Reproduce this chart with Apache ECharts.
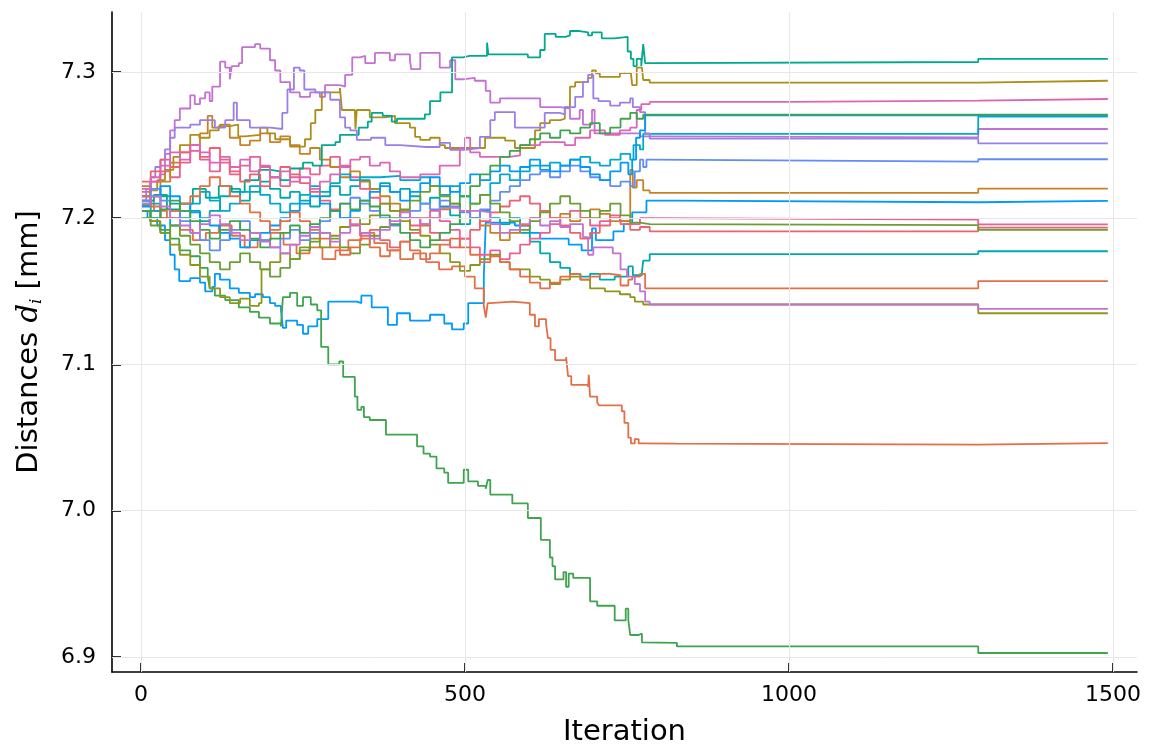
<!DOCTYPE html>
<html>
<head>
<meta charset="utf-8">
<script src="https://cdn.jsdelivr.net/npm/echarts@6/dist/echarts.min.js"></script>
<style>html,body{margin:0;padding:0;background:#fff;}#chart{width:1150px;height:749px;}</style>
</head>
<body>
<div id="chart"></div>
<script>
// Tick values
const iterTicks = [0, 500, 1000, 1500];
const distTicks = [6.9, 7.0, 7.1, 7.2, 7.3];

// Series: [iteration, distance] breakpoints (held until next breakpoint)
const s01 = [[0,7.205],[10,7.2],[25,7.195],[37,7.185],[45,7.175],[52,7.165],[59,7.157],[76,7.159],[91,7.156],[99,7.15],[110,7.153],[114,7.162],[122,7.158],[137,7.152],[151,7.149],[168,7.146],[176,7.148],[188,7.146],[199,7.142],[207,7.14],[216,7.137],[219,7.125],[224,7.13],[241,7.127],[250,7.121],[258,7.126],[272,7.131],[289,7.143],[333,7.142],[340,7.147],[356,7.139],[381,7.127],[395,7.135],[415,7.13],[446,7.134],[468,7.128],[480,7.124],[498,7.128],[505,7.142],[529,7.16],[532,7.197],[577,7.195],[600,7.19],[616,7.186],[660,7.182],[680,7.178],[696,7.193],[702,7.185],[729,7.191],[745,7.196],[758,7.204],[780,7.212],[827,7.2109],[1292,7.2118],[1492,7.2118]];
const s02 = [[0,7.212],[20,7.205],[40,7.2],[60,7.192],[80,7.185],[100,7.19],[120,7.195],[140,7.188],[160,7.18],[180,7.185],[200,7.19],[220,7.182],[240,7.176],[260,7.18],[280,7.172],[300,7.178],[320,7.185],[340,7.19],[360,7.183],[380,7.178],[400,7.172],[420,7.176],[440,7.17],[460,7.165],[480,7.167],[500,7.16],[515,7.152],[529,7.14],[532,7.132],[535,7.142],[539,7.143],[573,7.142],[600,7.134],[608,7.126],[614,7.131],[625,7.128],[628,7.118],[632,7.11],[639,7.103],[656,7.105],[659,7.092],[664,7.086],[690,7.0846],[691,7.093],[693,7.078],[704,7.074],[707,7.072],[742,7.068],[746,7.06],[752,7.05],[756,7.046],[762,7.049],[768,7.046],[773,7.0458],[827,7.0452],[1292,7.0462],[1492,7.0462]];
const s03 = [[0,7.205],[14,7.198],[29,7.192],[45,7.186],[59,7.178],[76,7.174],[91,7.166],[103,7.16],[106,7.152],[114,7.147],[130,7.144],[151,7.139],[168,7.136],[182,7.132],[199,7.128],[216,7.126],[219,7.146],[230,7.149],[241,7.14],[250,7.146],[262,7.141],[272,7.137],[278,7.112],[289,7.1],[306,7.102],[312,7.0915],[330,7.078],[334,7.069],[340,7.071],[344,7.064],[353,7.062],[378,7.052],[426,7.044],[436,7.039],[446,7.037],[456,7.029],[468,7.026],[474,7.019],[498,7.028],[505,7.02],[520,7.017],[532,7.015],[535,7.021],[539,7.011],[573,7.005],[597,6.995],[617,6.98],[631,6.968],[635,6.962],[639,6.953],[652,6.958],[656,6.948],[660,6.957],[667,6.954],[693,6.938],[704,6.935],[731,6.925],[748,6.933],[752,6.925],[755,6.915],[768,6.916],[773,6.91],[776,6.9096],[827,6.9072],[1292,6.9027],[1492,6.9027]];
const s04 = [[0,7.215],[14,7.225],[29,7.23],[37,7.244],[45,7.26],[52,7.267],[60,7.275],[76,7.284],[83,7.278],[91,7.282],[99,7.286],[106,7.28],[110,7.29],[122,7.307],[130,7.303],[137,7.295],[140,7.304],[151,7.306],[156,7.317],[176,7.319],[184,7.316],[199,7.308],[207,7.301],[215,7.293],[230,7.286],[245,7.283],[261,7.286],[276,7.283],[284,7.291],[307,7.29],[315,7.298],[326,7.31],[338,7.311],[346,7.306],[361,7.313],[384,7.308],[392,7.312],[415,7.308],[417,7.302],[431,7.313],[461,7.303],[477,7.308],[485,7.295],[497,7.296],[515,7.294],[532,7.287],[539,7.279],[554,7.282],[585,7.282],[616,7.276],[647,7.275],[662,7.268],[677,7.274],[682,7.264],[696,7.274],[700,7.258],[739,7.258],[770,7.256],[785,7.2553],[1292,7.261],[1492,7.261]];
const s05 = [[0,7.209],[14,7.219],[25,7.226],[37,7.233],[50,7.242],[60,7.25],[76,7.257],[90,7.255],[106,7.26],[120,7.263],[137,7.264],[150,7.256],[160,7.257],[184,7.262],[195,7.258],[207,7.254],[230,7.249],[253,7.254],[262,7.265],[269,7.274],[279,7.286],[307,7.289],[310,7.274],[330,7.273],[331,7.261],[333,7.274],[353,7.269],[377,7.27],[392,7.265],[415,7.262],[423,7.2556],[431,7.2535],[446,7.255],[461,7.25],[469,7.248],[523,7.248],[531,7.255],[562,7.253],[577,7.248],[608,7.26],[616,7.265],[631,7.267],[647,7.268],[654,7.276],[662,7.29],[670,7.293],[690,7.296],[696,7.301],[702,7.299],[708,7.2966],[739,7.2993],[756,7.3],[758,7.291],[765,7.303],[773,7.303],[775,7.2945],[785,7.2927],[1292,7.294],[1492,7.294]];
const s06 = [[0,7.21],[15,7.205],[30,7.215],[45,7.21],[60,7.2],[76,7.205],[91,7.198],[106,7.205],[122,7.215],[137,7.22],[153,7.212],[168,7.218],[184,7.225],[199,7.22],[215,7.214],[230,7.218],[245,7.212],[261,7.208],[276,7.215],[292,7.222],[307,7.216],[323,7.222],[338,7.226],[353,7.22],[369,7.224],[384,7.218],[400,7.22],[415,7.215],[431,7.21],[446,7.214],[461,7.208],[477,7.202],[492,7.196],[508,7.2],[523,7.205],[539,7.2],[554,7.196],[569,7.2],[585,7.19],[600,7.184],[616,7.176],[631,7.17],[647,7.166],[662,7.162],[678,7.16],[693,7.162],[708,7.158],[731,7.16],[752,7.167],[759,7.161],[773,7.163],[775,7.171],[785,7.1754],[1292,7.1774],[1492,7.1774]];
const s07 = [[0,7.218],[15,7.225],[30,7.232],[45,7.228],[60,7.238],[76,7.246],[91,7.24],[106,7.232],[122,7.238],[137,7.23],[153,7.236],[168,7.242],[184,7.235],[199,7.228],[215,7.222],[230,7.228],[245,7.234],[261,7.23],[276,7.236],[292,7.242],[307,7.236],[323,7.228],[338,7.22],[353,7.214],[369,7.21],[384,7.205],[400,7.2],[415,7.195],[431,7.2],[446,7.205],[461,7.198],[477,7.192],[492,7.186],[508,7.18],[523,7.175],[539,7.178],[554,7.172],[569,7.176],[585,7.182],[600,7.186],[616,7.19],[631,7.196],[647,7.2],[662,7.205],[678,7.2],[693,7.195],[708,7.198],[724,7.202],[739,7.198],[755,7.196],[770,7.2],[785,7.199],[1292,7.1958],[1492,7.1958]];
const s08 = [[0,7.222],[15,7.215],[30,7.225],[45,7.238],[60,7.245],[76,7.25],[91,7.258],[103,7.27],[110,7.262],[122,7.264],[137,7.255],[153,7.25],[168,7.253],[184,7.258],[199,7.252],[215,7.256],[230,7.25],[245,7.244],[261,7.248],[276,7.24],[292,7.235],[307,7.228],[323,7.232],[338,7.225],[353,7.22],[369,7.215],[384,7.21],[400,7.205],[415,7.2],[431,7.195],[446,7.2],[461,7.206],[477,7.21],[492,7.205],[508,7.2],[523,7.195],[539,7.19],[554,7.185],[569,7.19],[585,7.195],[600,7.2],[616,7.205],[631,7.2],[647,7.203],[662,7.198],[678,7.2],[693,7.206],[708,7.203],[724,7.198],[740,7.198],[755,7.233],[759,7.221],[765,7.226],[775,7.219],[785,7.2173],[1292,7.2202],[1492,7.2202]];
const s09 = [[0,7.212],[20,7.216],[40,7.206],[60,7.21],[80,7.22],[100,7.214],[120,7.222],[140,7.218],[160,7.226],[182,7.233],[200,7.232],[215,7.226],[230,7.234],[250,7.238],[265,7.236],[279,7.25],[300,7.252],[307,7.257],[336,7.262],[350,7.266],[356,7.272],[373,7.27],[387,7.266],[395,7.268],[438,7.271],[446,7.28],[462,7.286],[480,7.31],[497,7.311],[507,7.311],[534,7.32],[536,7.312],[597,7.31],[612,7.31],[616,7.315],[623,7.326],[640,7.324],[655,7.325],[662,7.328],[677,7.327],[690,7.325],[696,7.327],[711,7.323],[731,7.324],[751,7.314],[756,7.309],[760,7.304],[765,7.309],[772,7.304],[775,7.319],[778,7.306],[784,7.3068],[1292,7.3089],[1492,7.3089]];
const s10 = [[0,7.205],[15,7.198],[30,7.19],[45,7.182],[60,7.175],[76,7.168],[91,7.16],[106,7.152],[122,7.146],[137,7.142],[153,7.145],[168,7.14],[182,7.142],[186,7.165],[199,7.17],[215,7.176],[230,7.172],[245,7.18],[261,7.186],[276,7.18],[292,7.188],[307,7.194],[323,7.2],[338,7.196],[353,7.202],[369,7.21],[384,7.205],[400,7.198],[415,7.192],[431,7.188],[446,7.182],[461,7.176],[477,7.17],[492,7.164],[508,7.168],[523,7.172],[539,7.175],[554,7.17],[569,7.165],[585,7.165],[600,7.16],[616,7.158],[631,7.155],[647,7.158],[662,7.16],[678,7.158],[693,7.152],[716,7.15],[739,7.148],[755,7.146],[762,7.143],[775,7.141],[1292,7.135],[1492,7.135]];
const s11 = [[0,7.215],[15,7.21],[30,7.2],[45,7.195],[60,7.205],[76,7.21],[91,7.218],[106,7.212],[122,7.205],[137,7.21],[153,7.218],[168,7.222],[184,7.216],[199,7.21],[215,7.204],[230,7.21],[245,7.216],[261,7.222],[276,7.218],[292,7.224],[307,7.23],[323,7.226],[338,7.228],[369,7.229],[400,7.226],[431,7.228],[446,7.222],[461,7.216],[477,7.222],[492,7.215],[508,7.21],[523,7.216],[539,7.224],[554,7.23],[569,7.226],[585,7.232],[600,7.236],[616,7.233],[631,7.238],[647,7.236],[662,7.24],[678,7.242],[693,7.238],[708,7.236],[724,7.24],[740,7.244],[755,7.24],[760,7.25],[770,7.247],[775,7.2576],[1292,7.2695],[1492,7.2695]];
const s12 = [[0,7.212],[8,7.22],[15,7.228],[22,7.235],[30,7.24],[37,7.247],[45,7.255],[52,7.262],[76,7.264],[91,7.267],[114,7.262],[130,7.267],[143,7.279],[148,7.267],[168,7.262],[200,7.261],[218,7.272],[226,7.288],[236,7.303],[245,7.301],[252,7.288],[269,7.286],[292,7.281],[307,7.269],[315,7.262],[323,7.26],[333,7.2535],[355,7.255],[377,7.25],[400,7.2487],[440,7.2487],[461,7.2515],[477,7.2467],[500,7.248],[523,7.2556],[539,7.267],[546,7.2726],[569,7.2726],[577,7.262],[608,7.262],[623,7.272],[646,7.271],[654,7.276],[670,7.283],[682,7.293],[690,7.298],[698,7.282],[706,7.28],[724,7.277],[739,7.279],[755,7.282],[759,7.276],[770,7.2726],[778,7.258],[785,7.2544],[1292,7.2512],[1492,7.2512]];
const s13 = [[0,7.212],[15,7.22],[30,7.212],[45,7.205],[60,7.198],[76,7.19],[91,7.185],[106,7.178],[122,7.185],[137,7.192],[153,7.198],[168,7.19],[184,7.185],[199,7.18],[215,7.186],[230,7.192],[245,7.185],[261,7.19],[276,7.198],[292,7.205],[307,7.21],[323,7.214],[338,7.21],[353,7.205],[369,7.2],[384,7.195],[400,7.2],[415,7.205],[431,7.21],[446,7.206],[461,7.212],[477,7.208],[492,7.204],[508,7.2],[523,7.206],[539,7.212],[554,7.218],[569,7.222],[585,7.226],[600,7.23],[616,7.232],[631,7.228],[647,7.232],[662,7.236],[678,7.232],[693,7.228],[708,7.226],[724,7.222],[740,7.225],[755,7.222],[762,7.232],[770,7.24],[775,7.235],[780,7.24],[785,7.2387],[1292,7.2403],[1492,7.2403]];
const s14 = [[0,7.225],[15,7.232],[30,7.24],[45,7.235],[60,7.245],[76,7.25],[91,7.242],[106,7.248],[122,7.24],[137,7.232],[153,7.225],[168,7.23],[184,7.222],[199,7.228],[215,7.235],[230,7.23],[245,7.224],[261,7.218],[276,7.212],[292,7.206],[307,7.2],[323,7.195],[338,7.188],[353,7.192],[369,7.185],[384,7.18],[400,7.184],[415,7.19],[431,7.196],[446,7.19],[461,7.185],[477,7.18],[492,7.186],[508,7.192],[523,7.198],[539,7.204],[554,7.208],[569,7.212],[585,7.215],[600,7.21],[616,7.205],[631,7.2],[647,7.195],[662,7.19],[678,7.186],[693,7.19],[708,7.195],[724,7.2],[740,7.196],[755,7.192],[770,7.194],[785,7.191],[1292,7.1935],[1492,7.1935]];
const s15 = [[0,7.22],[15,7.228],[30,7.236],[45,7.245],[60,7.24],[76,7.25],[91,7.245],[106,7.238],[122,7.242],[137,7.235],[153,7.24],[168,7.232],[184,7.236],[199,7.228],[215,7.232],[230,7.225],[245,7.228],[261,7.22],[276,7.225],[292,7.23],[307,7.235],[323,7.24],[338,7.242],[353,7.236],[369,7.238],[384,7.232],[400,7.228],[431,7.23],[461,7.236],[492,7.248],[500,7.255],[508,7.245],[523,7.242],[569,7.243],[585,7.25],[616,7.252],[654,7.25],[670,7.255],[693,7.26],[716,7.257],[739,7.26],[755,7.262],[765,7.274],[772,7.278],[785,7.2795],[1000,7.2804],[1292,7.2815],[1492,7.2815]];
const s16 = [[0,7.2],[15,7.195],[30,7.19],[45,7.195],[60,7.188],[76,7.182],[91,7.176],[106,7.17],[122,7.165],[137,7.17],[153,7.176],[168,7.17],[184,7.165],[199,7.16],[215,7.166],[230,7.172],[245,7.178],[261,7.184],[276,7.19],[292,7.186],[307,7.18],[323,7.176],[338,7.182],[353,7.188],[369,7.194],[384,7.2],[400,7.206],[415,7.212],[431,7.218],[446,7.222],[461,7.215],[477,7.21],[492,7.205],[508,7.21],[523,7.216],[539,7.21],[554,7.204],[569,7.198],[585,7.192],[600,7.198],[616,7.204],[631,7.21],[647,7.215],[662,7.21],[678,7.205],[693,7.2],[708,7.205],[724,7.21],[740,7.202],[755,7.197],[770,7.196],[785,7.1953],[1292,7.192],[1492,7.192]];
const s17 = [[0,7.208],[15,7.215],[30,7.222],[45,7.215],[60,7.21],[76,7.204],[91,7.2],[106,7.195],[122,7.19],[137,7.186],[153,7.18],[168,7.185],[184,7.19],[199,7.195],[215,7.2],[230,7.205],[245,7.21],[261,7.215],[276,7.21],[292,7.205],[307,7.2],[323,7.205],[338,7.212],[353,7.218],[369,7.222],[384,7.218],[400,7.212],[415,7.218],[431,7.224],[446,7.228],[461,7.222],[477,7.218],[492,7.224],[508,7.23],[523,7.226],[539,7.232],[554,7.236],[569,7.232],[585,7.235],[600,7.24],[616,7.236],[631,7.232],[647,7.236],[662,7.24],[678,7.235],[693,7.23],[708,7.226],[724,7.232],[740,7.238],[752,7.23],[758,7.24],[764,7.255],[770,7.26],[778,7.2703],[1492,7.2703]];
const s18 = [[0,7.215],[15,7.208],[30,7.2],[45,7.205],[60,7.21],[76,7.215],[91,7.222],[106,7.228],[122,7.222],[137,7.215],[153,7.21],[168,7.204],[184,7.198],[199,7.192],[215,7.198],[230,7.204],[245,7.198],[261,7.192],[276,7.186],[292,7.18],[307,7.175],[323,7.18],[338,7.186],[353,7.18],[369,7.174],[384,7.178],[400,7.184],[415,7.178],[431,7.172],[446,7.176],[461,7.182],[477,7.186],[492,7.18],[508,7.175],[523,7.17],[539,7.174],[554,7.17],[569,7.165],[585,7.16],[600,7.156],[616,7.152],[631,7.156],[647,7.16],[662,7.162],[678,7.158],[693,7.16],[708,7.162],[724,7.161],[740,7.154],[752,7.158],[758,7.16],[770,7.162],[778,7.152],[1292,7.157],[1492,7.157]];
const s19 = [[0,7.205],[15,7.2],[30,7.206],[45,7.212],[60,7.205],[76,7.198],[91,7.192],[106,7.186],[122,7.192],[137,7.198],[153,7.192],[168,7.186],[184,7.18],[199,7.186],[215,7.19],[230,7.195],[245,7.19],[261,7.196],[276,7.2],[292,7.205],[307,7.21],[323,7.206],[338,7.212],[353,7.208],[369,7.202],[384,7.196],[400,7.19],[415,7.185],[431,7.18],[446,7.185],[461,7.19],[477,7.196],[492,7.215],[508,7.222],[523,7.23],[539,7.236],[554,7.242],[569,7.246],[585,7.25],[600,7.254],[616,7.258],[631,7.255],[647,7.26],[662,7.258],[678,7.262],[693,7.265],[708,7.258],[724,7.262],[740,7.268],[755,7.272],[765,7.268],[775,7.2708],[1492,7.2708]];
const s20 = [[0,7.21],[15,7.215],[30,7.208],[45,7.2],[60,7.195],[76,7.19],[91,7.196],[106,7.202],[122,7.196],[137,7.19],[153,7.185],[168,7.19],[184,7.184],[199,7.18],[215,7.176],[230,7.182],[245,7.188],[261,7.194],[276,7.19],[292,7.184],[307,7.19],[323,7.196],[338,7.19],[353,7.186],[369,7.192],[384,7.198],[400,7.204],[415,7.2],[431,7.196],[446,7.2],[461,7.207],[492,7.205],[523,7.204],[539,7.196],[554,7.19],[569,7.192],[585,7.196],[600,7.2],[616,7.195],[631,7.198],[647,7.194],[662,7.196],[682,7.187],[690,7.175],[698,7.18],[728,7.176],[740,7.165],[750,7.16],[762,7.155],[770,7.15],[778,7.143],[785,7.141],[1292,7.138],[1492,7.138]];

const allSeries = [s01,s02,s03,s04,s05,s06,s07,s08,s09,s10,s11,s12,s13,s14,s15,s16,s17,s18,s19,s20];
const palette = ['#009AFA','#E36F47','#3EA44E','#C371D2','#AC8E18','#00A9AD','#ED5E93','#C68225','#00A98D','#8E971D','#00A9CD','#9B7FE9','#618DF6','#F06073','#DD65B6','#6C9F32'];

const chart = echarts.init(document.getElementById('chart'), null, {renderer: 'canvas'});
const font = 'DejaVu Sans';
const gridColor = '#e8e8e8';

chart.setOption({
  animation: false,
  backgroundColor: '#ffffff',
  grid: {left: 112, right: 13, top: 12, bottom: 77, containLabel: false, outerBoundsMode: 'none'},
  xAxis: {
    type: 'value', min: -44.75, max: 1537,
    name: 'Iteration', nameLocation: 'middle', nameGap: 46,
    nameTextStyle: {fontFamily: font, fontSize: 29, color: '#000'},
    axisLine: {show: true, onZero: false, lineStyle: {color: '#000', width: 1.6}},
    axisTick: {show: true, inside: true, length: 9, customValues: iterTicks, lineStyle: {color: '#000', width: 1.6}},
    axisLabel: {customValues: iterTicks, fontFamily: font, fontSize: 22, color: '#000', margin: 12,
      formatter: v => String(Math.round(v))},
    splitLine: {show: false}
  },
  yAxis: {
    type: 'value', min: 6.8897, max: 7.341,
    name: '{a|Distances }{d|d}{i|i}{a| [mm]}', nameLocation: 'middle', nameGap: 67, nameRotate: 90,
    nameTextStyle: {fontFamily: font, fontSize: 29, color: '#000',
      rich: {
        a: {fontFamily: font, fontSize: 29, color: '#000'},
        d: {fontFamily: 'DejaVu Serif', fontStyle: 'italic', fontSize: 29, color: '#000'},
        i: {fontFamily: 'DejaVu Serif', fontStyle: 'italic', fontSize: 17, color: '#000', padding: [14, 0, 0, 0]}
      }},
    axisLine: {show: true, onZero: false, lineStyle: {color: '#000', width: 1.6}},
    axisTick: {show: true, inside: true, length: 9, customValues: distTicks, lineStyle: {color: '#000', width: 1.6}},
    axisLabel: {customValues: distTicks, fontFamily: font, fontSize: 22, color: '#000', margin: 16,
      formatter: v => Number(v).toFixed(1)},
    splitLine: {show: false}
  },
  series: [
    {
      type: 'line', silent: true, symbol: 'none', data: [],
      markLine: {
        silent: true, symbol: 'none', label: {show: false},
        lineStyle: {color: gridColor, width: 1, type: 'solid'},
        data: iterTicks.map(v => ({xAxis: v})).concat(distTicks.map(v => ({yAxis: v})))
      },
      z: 1
    }
  ].concat(allSeries.map((d, k) => ({
    type: 'line', data: d, step: 'end', symbol: 'none', showSymbol: false,
    lineStyle: {color: palette[k % palette.length], width: 1.8},
    itemStyle: {color: palette[k % palette.length]},
    z: 2 + k * 0.01
  })))
});
</script>
</body>
</html>
